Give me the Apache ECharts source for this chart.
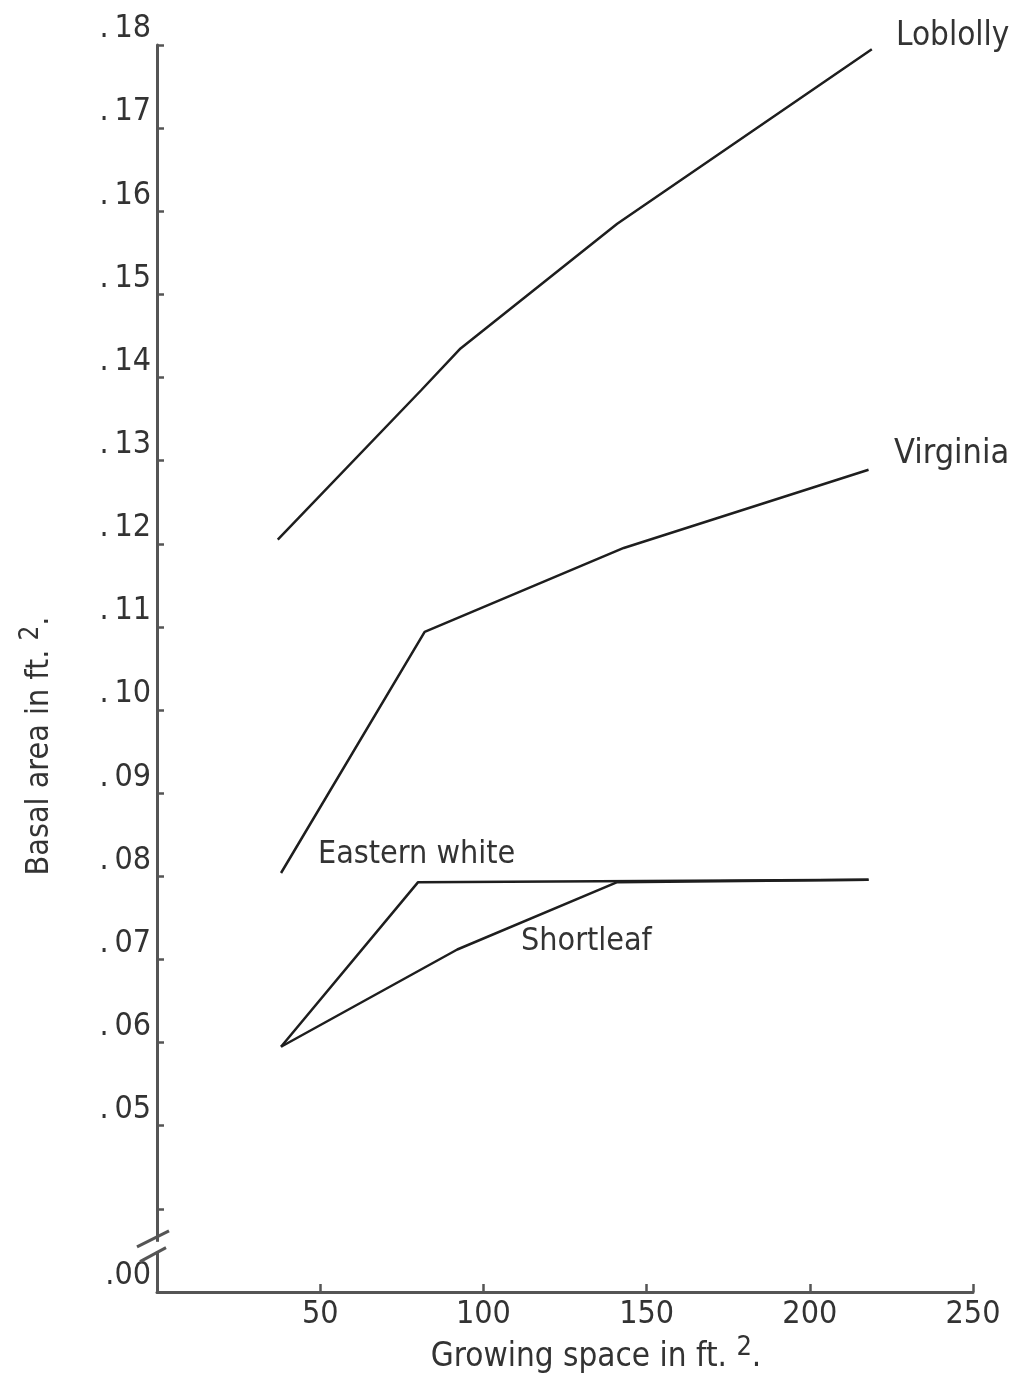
<!DOCTYPE html>
<html>
<head>
<meta charset="utf-8">
<script src="https://cdn.jsdelivr.net/npm/echarts@6/dist/echarts.min.js"></script>
<style>
html,body{margin:0;padding:0;background:#fff;}
#chart{width:1019px;height:1380px;}
</style>
</head>
<body>
<div id="chart"></div>
<script>
// ---- data ----
const loblollyX = [37, 81, 93, 141, 219];
const loblollyY = [0.1205, 0.1385, 0.1435, 0.1585, 0.1795];
const virginiaX = [38, 82, 143, 218];
const virginiaY = [0.0804, 0.1094, 0.1195, 0.1289];
const easternWhiteX = [38, 80, 218];
const easternWhiteY = [0.0595, 0.0793, 0.0796];
const shortleafX = [38, 92, 141, 218];
const shortleafY = [0.0595, 0.0712, 0.0793, 0.0796];

const seriesNames = ['Loblolly', 'Virginia', 'Eastern white', 'Shortleaf'];
const xTickValues = [0, 50, 100, 150, 200, 250];
const xTickLabels = ['', '50', '100', '150', '200', '250'];
// y ticks in hundredths (3 = broken-axis origin shown as .00)
const yTickHundredths = [3, 4, 5, 6, 7, 8, 9, 10, 11, 12, 13, 14, 15, 16, 17, 18];
const yTickLabels = ['.00', '', '.\u200905', '.\u200906', '.\u200907', '.\u200908', '.\u200909', '.\u200910', '.\u200911', '.\u200912', '.\u200913', '.\u200914', '.\u200915', '.\u200916', '.\u200917', '.\u200918'];
const xAxisTitle = 'Growing space in ft.';
const yAxisTitle = 'Basal area in ft.';

function pairs(xs, ys) { return xs.map((x, i) => [x, ys[i]]); }

const FONT = "'Liberation Sans Narrow', 'DejaVu Sans Condensed', 'Roboto', sans-serif";
const INK = '#1e1e1e';
const TXT = '#333';

const chart = echarts.init(document.getElementById('chart'), null, {renderer: 'canvas'});

const lineStyle = {color: INK, width: 2.5};
function lineSeries(name, xs, ys) {
  return {
    name: name, type: 'line', data: pairs(xs, ys),
    symbol: 'none', lineStyle: lineStyle, silent: true, animation: false
  };
}

chart.setOption({
  backgroundColor: '#fff',
  animation: false,
  grid: {left: 157, right: 46, top: 45, bottom: 88, containLabel: false},
  xAxis: {
    type: 'value', min: 0, max: 250, interval: 50,
    axisLine: {lineStyle: {color: '#555', width: 3}},
    axisTick: {inside: true, length: 8, lineStyle: {color: '#555', width: 2.5}},
    splitLine: {show: false},
    axisLabel: {
      fontFamily: FONT, fontSize: 32, color: TXT, margin: 7,
      formatter: v => { const i = xTickValues.indexOf(Math.round(v)); return i >= 0 ? xTickLabels[i] : ''; }
    }
  },
  yAxis: {
    type: 'value', min: 0.03, max: 0.18, interval: 0.01,
    axisLine: {lineStyle: {color: '#555', width: 3}},
    axisTick: {inside: true, length: 7, lineStyle: {color: '#555', width: 2.5}},
    splitLine: {show: false},
    axisLabel: {
      fontFamily: FONT, fontSize: 32, color: TXT, margin: 6, verticalAlign: 'bottom',
      formatter: v => { const i = yTickHundredths.indexOf(Math.round(v * 100)); return i >= 0 ? yTickLabels[i] : ''; }
    }
  },
  series: [
    lineSeries(seriesNames[0], loblollyX, loblollyY),
    lineSeries(seriesNames[1], virginiaX, virginiaY),
    lineSeries(seriesNames[2], easternWhiteX, easternWhiteY),
    lineSeries(seriesNames[3], shortleafX, shortleafY)
  ]
});

// axis break marks, axis titles and curve labels
const yb1 = chart.convertToPixel({yAxisIndex: 0}, 0.0364);
const yb2 = chart.convertToPixel({yAxisIndex: 0}, 0.0345);
const x0 = chart.convertToPixel({xAxisIndex: 0}, 0) - 1;

chart.setOption({
  graphic: [
    {type: 'rect', shape: {x: x0 - 4, y: yb1 + 3, width: 8, height: yb2 - yb1 - 6}, style: {fill: '#fff'}, z: 100},
    {type: 'line', shape: {x1: x0 - 19, y1: yb1 + 8, x2: x0 + 13, y2: yb1 - 8}, style: {stroke: '#555', lineWidth: 3}, z: 101},
    {type: 'line', shape: {x1: x0 - 16, y1: yb2 + 7, x2: x0 + 10, y2: yb2 - 7}, style: {stroke: '#555', lineWidth: 3}, z: 101},
    {type: 'text', x: 596, y: 1357, style: {
      text: xAxisTitle + ' {s|2}.', fontFamily: FONT, fontSize: 33, fill: TXT,
      align: 'center', verticalAlign: 'middle',
      rich: {s: {fontFamily: FONT, fontSize: 27, fill: TXT, padding: [0, 0, 18, 0]}}
    }},
    {type: 'text', x: 40, y: 746, rotation: Math.PI / 2, style: {
      text: yAxisTitle + ' {s|2}.', fontFamily: FONT, fontSize: 32, fill: TXT,
      align: 'center', verticalAlign: 'middle',
      rich: {s: {fontFamily: FONT, fontSize: 26, fill: TXT, padding: [0, 0, 18, 0]}}
    }},
    {type: 'text', x: 896, y: 36, style: {text: seriesNames[0], fontFamily: FONT, fontSize: 33, fill: TXT, align: 'left', verticalAlign: 'middle'}},
    {type: 'text', x: 894, y: 454, style: {text: seriesNames[1], fontFamily: FONT, fontSize: 34, fill: TXT, align: 'left', verticalAlign: 'middle'}},
    {type: 'text', x: 318, y: 855, style: {text: seriesNames[2], fontFamily: FONT, fontSize: 32, fill: TXT, align: 'left', verticalAlign: 'middle'}},
    {type: 'text', x: 521, y: 942, style: {text: seriesNames[3], fontFamily: FONT, fontSize: 32, fill: TXT, align: 'left', verticalAlign: 'middle'}}
  ]
});
</script>
</body>
</html>
